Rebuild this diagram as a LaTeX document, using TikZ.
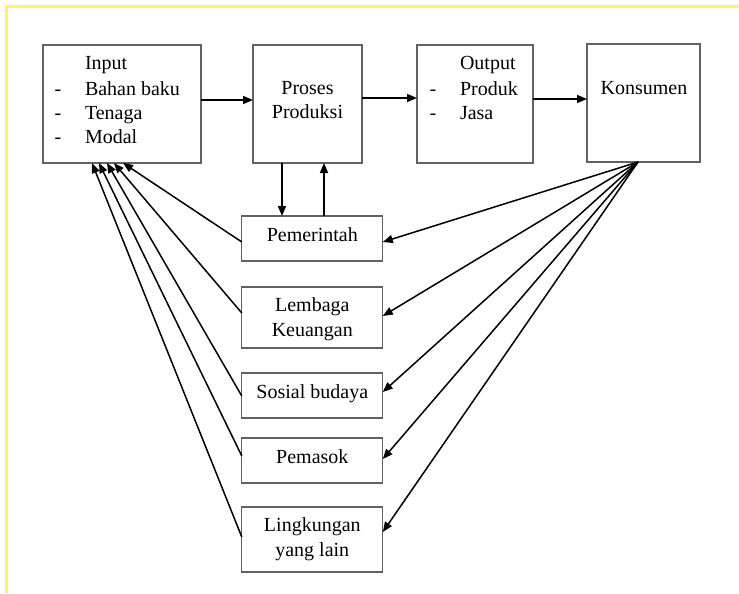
\documentclass[tikz,border=0pt]{standalone}
\usepackage{fontspec}
\setmainfont{Liberation Serif}
\usetikzlibrary{arrows.meta}
\begin{document}
\begin{tikzpicture}[x=1pt,y=-1pt,
  every node/.style={inner sep=0pt, outer sep=0pt},
  box/.style={draw=black!62, line width=1.3pt, rectangle},
  txt/.style={font=\fontsize{20}{24}\selectfont, text=black, anchor=base},
  txtw/.style={txt, anchor=base west},
  link/.style={draw=black, line width=1.5pt, -{Triangle[length=10pt,width=8pt]}},
  frameline/.style={draw=yellow!55!white!97!red, line width=2.2pt}]
\useasboundingbox (0,0) rectangle (739,594);
\fill[white] (0,0) rectangle (739,594);
% page frame
\draw[frameline] (6.5,593) -- (6.5,6.5) -- (739,6.5);

% top row
\node[box, minimum width=158pt, minimum height=118pt] (input) at (122,104) {};
\node[box, minimum width=109pt, minimum height=118pt] (proses) at (307.5,104) {};
\node[box, minimum width=116pt, minimum height=118pt] (output) at (475,104) {};
\node[box, minimum width=113pt, minimum height=118pt] (konsumen) at (643.5,103) {};

% left column of boxes
\node[box, minimum width=141pt, minimum height=45pt] (pemerintah) at (312.3,238.5) {};
\node[box, minimum width=141pt, minimum height=61pt] (lembaga) at (312.3,317.5) {};
\node[box, minimum width=141pt, minimum height=45pt] (sosial) at (312.3,395.5) {};
\node[box, minimum width=141pt, minimum height=45pt] (pemasok) at (312.3,460.5) {};
\node[box, minimum width=141pt, minimum height=65pt] (lingkungan) at (312.3,539.5) {};

% texts of the top row
\node[txtw] (t-input) at (85,69.5) {Input};
\node[txt] (d-bahan) at (58,95.5) {-};
\node[txtw] (t-bahan) at (85,95.5) {Bahan baku};
\node[txt] (d-tenaga) at (58,119.5) {-};
\node[txtw] (t-tenaga) at (85,119.5) {Tenaga};
\node[txt] (d-modal) at (58,143.5) {-};
\node[txtw] (t-modal) at (85,143.5) {Modal};

\node[txt] (t-proses) at (307.5,94.5) {Proses};
\node[txt] (t-produksi) at (307.5,118.5) {Produksi};

\node[txtw] (t-output) at (460,69.5) {Output};
\node[txt] (d-produk) at (433,95.5) {-};
\node[txtw] (t-produk) at (460,95.5) {Produk};
\node[txt] (d-jasa) at (433,119.5) {-};
\node[txtw] (t-jasa) at (460,119.5) {Jasa};

\node[txt] (t-konsumen) at (644,94.5) {Konsumen};

% texts of the left column
\node[txt] (t-pemerintah) at (312.3,241.5) {Pemerintah};
\node[txt] (t-lembaga) at (312.3,311.5) {Lembaga};
\node[txt] (t-keuangan) at (312.3,336.5) {Keuangan};
\node[txt] (t-sosial) at (312.3,398.5) {Sosial budaya};
\node[txt] (t-pemasok) at (312.3,463.5) {Pemasok};
\node[txt] (t-lingkungan) at (312.3,531.5) {Lingkungan};
\node[txt] (t-lain) at (312.3,556.5) {yang lain};

% main flow
\draw[link] (input.east |- 0,100) -- (proses.west |- 0,100);
\draw[link] (proses.east |- 0,98) -- (output.west |- 0,98);
\draw[link] (output.east |- 0,99) -- (konsumen.west |- 0,99);

% production and government
\draw[link] (proses.south -| 282,0) -- (pemerintah.north -| 282,0);
\draw[link] (pemerintah.north -| 324,0) -- (proses.south -| 324,0);

% consumer influences
\coordinate (kfan) at (konsumen.south -| 638,0);
\draw[link] (kfan) -- (pemerintah.east |- 0,242);
\draw[link] (kfan) -- (lembaga.east |- 0,316);
\draw[link] (kfan) -- (sosial.east |- 0,392);
\draw[link] (kfan) -- (pemasok.east |- 0,459);
\draw[link] (kfan) -- (lingkungan.east |- 0,532);

% environment back to input
\draw[link] (pemerintah.west |- 0,242) -- (input.south -| 123,0);
\draw[link] (lembaga.west |- 0,313) -- (input.south -| 114,0);
\draw[link] (sosial.west |- 0,396) -- (input.south -| 107,0);
\draw[link] (pemasok.west |- 0,456) -- (input.south -| 99,0);
\draw[link] (lingkungan.west |- 0,537) -- (input.south -| 92,0);
\end{tikzpicture}
\end{document}
